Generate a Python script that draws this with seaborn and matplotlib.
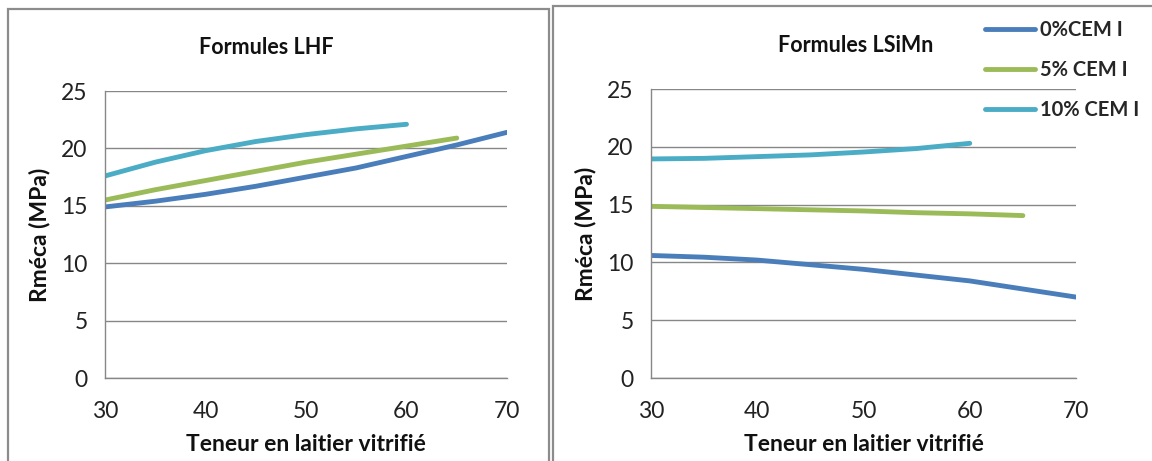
import matplotlib
matplotlib.use("Agg")
import matplotlib.pyplot as plt
import seaborn as sns
import pandas as pd
from matplotlib.patches import Rectangle
from matplotlib.lines import Line2D

# ---- data ----
series_names = ["0%CEM I", "5% CEM I", "10% CEM I"]
colors = ["#4A7EBB", "#9BBB59", "#4BACC6"]

lhf_x_0 = [30, 35, 40, 45, 50, 55, 60, 65, 70]
lhf_y_0 = [14.9, 15.4, 16.0, 16.7, 17.5, 18.3, 19.3, 20.3, 21.4]
lhf_x_5 = [30, 35, 40, 45, 50, 55, 60, 65]
lhf_y_5 = [15.5, 16.4, 17.2, 18.0, 18.8, 19.5, 20.2, 20.9]
lhf_x_10 = [30, 35, 40, 45, 50, 55, 60]
lhf_y_10 = [17.6, 18.8, 19.8, 20.6, 21.2, 21.7, 22.1]

lsimn_x_0 = [30, 35, 40, 45, 50, 55, 60, 65, 70]
lsimn_y_0 = [10.6, 10.45, 10.2, 9.8, 9.4, 8.9, 8.4, 7.7, 7.0]
lsimn_x_5 = [30, 35, 40, 45, 50, 55, 60, 65]
lsimn_y_5 = [14.85, 14.75, 14.65, 14.55, 14.45, 14.3, 14.2, 14.05]
lsimn_x_10 = [30, 35, 40, 45, 50, 55, 60]
lsimn_y_10 = [18.95, 19.0, 19.15, 19.3, 19.55, 19.85, 20.3]

titles = ["Formules LHF", "Formules LSiMn"]
xlabel = "Teneur en laitier vitrifié"
ylabel = "Rméca (MPa)"
xticks = [30, 40, 50, 60, 70]
yticks = [0, 5, 10, 15, 20, 25]


def make_df(xs, ys):
    frames = []
    for name, x, y in zip(series_names, xs, ys):
        frames.append(pd.DataFrame({"x": x, "y": y, "serie": name}))
    return pd.concat(frames, ignore_index=True)


df_lhf = make_df([lhf_x_0, lhf_x_5, lhf_x_10], [lhf_y_0, lhf_y_5, lhf_y_10])
df_lsimn = make_df([lsimn_x_0, lsimn_x_5, lsimn_x_10], [lsimn_y_0, lsimn_y_5, lsimn_y_10])

sns.set_theme(style="white")
plt.rcParams["font.family"] = ["Lato", "DejaVu Sans"]

W, H = 1152, 461
fig = plt.figure(figsize=(W / 100, H / 100), dpi=100)
fig.patch.set_facecolor("white")


def fx(px):
    return px / W


def fy(py):
    return 1 - py / H


# panel borders
fig.patches.append(Rectangle((fx(8), fy(470)), fx(549) - fx(8), fy(9) - fy(470),
                             transform=fig.transFigure, fill=False,
                             edgecolor="#8c8c8c", linewidth=1.6, zorder=0))
fig.patches.append(Rectangle((fx(553), fy(470)), fx(1160) - fx(553), fy(6) - fy(470),
                             transform=fig.transFigure, fill=False,
                             edgecolor="#8c8c8c", linewidth=1.6, zorder=0))

ax1 = fig.add_axes([fx(105), fy(378), fx(507) - fx(105), fy(91) - fy(378)])
ax2 = fig.add_axes([fx(651), fy(378), fx(1076) - fx(651), fy(89) - fy(378)])

grid_c = "#878787"
for ax, df, title, tx, ty in [(ax1, df_lhf, titles[0], 266, 47), (ax2, df_lsimn, titles[1], 856, 45)]:
    sns.lineplot(data=df, x="x", y="y", hue="serie", hue_order=series_names,
                 palette=colors, linewidth=3.5, ax=ax, legend=False,
                 solid_capstyle="round", sort=True)
    ax.set_xlim(30, 70)
    ax.set_ylim(0, 25)
    ax.set_xticks(xticks)
    ax.set_yticks(yticks)
    ax.set_facecolor("none")
    ax.yaxis.grid(True, color=grid_c, linewidth=1.0)
    ax.xaxis.grid(False)
    ax.set_axisbelow(True)
    for s in ["top", "right"]:
        ax.spines[s].set_visible(False)
    for s in ["left", "bottom"]:
        ax.spines[s].set_color(grid_c)
        ax.spines[s].set_linewidth(1.0)
    ax.tick_params(axis="both", direction="out", length=6.5, width=1.0, color=grid_c,
                   labelsize=16.5, labelcolor="#222222")
    ax.tick_params(axis="y", pad=6)
    ax.tick_params(axis="x", pad=10)
    ax.set_xlabel(xlabel, fontsize=16.5, fontweight="bold", color="#111111", labelpad=9)
    ax.set_ylabel(ylabel, fontsize=16.5, fontweight="bold", color="#111111", labelpad=8)
    fig.text(fx(tx), fy(ty), title, ha="center", va="center",
             fontsize=15.5, fontweight="bold", color="#111111")

# legend
handles = [Line2D([0], [0], color=c, linewidth=3.5, solid_capstyle="round") for c in colors]
fig.legend(handles, series_names, loc="upper left",
           bbox_to_anchor=(fx(977), fy(12)), frameon=False,
           prop={"size": 14.5, "weight": "bold"}, handlelength=2.5,
           handletextpad=0.25, labelspacing=1.0, borderaxespad=0)

fig.savefig("out.png", dpi=100, facecolor="white")
